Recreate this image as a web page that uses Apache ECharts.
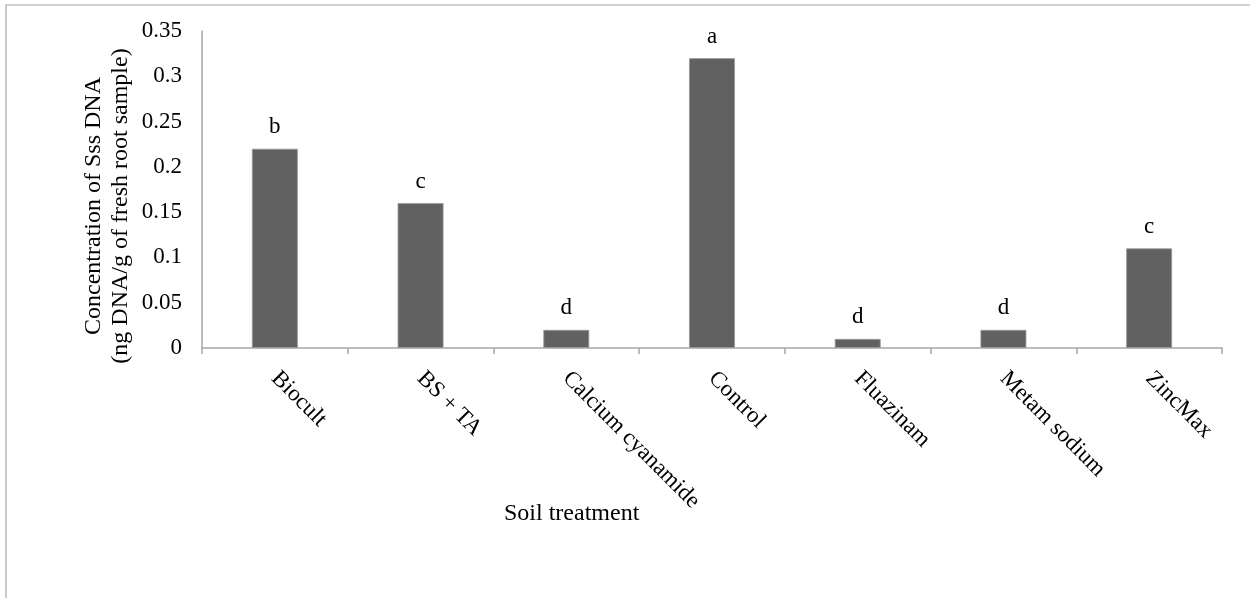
<!DOCTYPE html>
<html>
<head>
<meta charset="utf-8">
<script src="https://cdn.jsdelivr.net/npm/echarts@6/dist/echarts.min.js"></script>
<style>
  html, body { margin: 0; padding: 0; background: #fff; }
  #chart { width: 1250px; height: 598px; }
</style>
</head>
<body>
<div id="chart"></div>
<script>
// Sss DNA concentration in roots by soil treatment
const treatments = ['Biocult', 'BS + TA', 'Calcium cyanamide', 'Control', 'Fluazinam', 'Metam sodium', 'ZincMax'];
const concentration = [0.22, 0.16, 0.02, 0.32, 0.01, 0.02, 0.11];
const significance = ['b', 'c', 'd', 'a', 'd', 'd', 'c'];
const yTicks = [0, 0.05, 0.1, 0.15, 0.2, 0.25, 0.3, 0.35];

const serif = '"Liberation Serif", "Times New Roman", serif';
const axisGray = '#a6a6a6';

const chart = echarts.init(document.getElementById('chart'), null, { renderer: 'canvas' });

chart.setOption({
  animation: false,
  backgroundColor: '#fff',
  grid: { left: 202, right: 28, top: 31, bottom: 250, containLabel: false },
  graphic: [{
    type: 'rect',
    shape: { x: 6, y: 5, width: 1270, height: 620 },
    style: { fill: 'none', stroke: axisGray, lineWidth: 1.2 },
    silent: true,
    z: -1
  }, {
    // vertical axis title, two lines
    type: 'text',
    x: 107,
    y: 206,
    rotation: Math.PI / 2,
    style: {
      text: 'Concentration of Sss DNA\n(ng DNA/g of fresh root sample)',
      fontFamily: serif,
      fontSize: 24,
      lineHeight: 27,
      fill: '#000',
      align: 'center',
      verticalAlign: 'middle'
    },
    silent: true
  }],
  title: {
    text: 'Soil treatment',
    left: 504,
    top: 502,
    padding: 0,
    textStyle: { fontFamily: serif, fontSize: 24, fontWeight: 'normal', color: '#000' }
  },
  xAxis: {
    type: 'category',
    data: treatments,
    boundaryGap: true,
    axisLine: { lineStyle: { color: axisGray, width: 1.5 } },
    axisTick: { show: true, length: 6, lineStyle: { color: axisGray, width: 1.5 } },
    axisLabel: {
      rotate: -45,
      margin: 27,
      interval: 0,
      fontFamily: serif,
      fontSize: 23,
      color: '#000'
    }
  },
  yAxis: {
    type: 'value',
    min: 0,
    max: yTicks[yTicks.length - 1],
    interval: 0.05,
    axisLine: { show: true, lineStyle: { color: axisGray, width: 1.5 } },
    axisTick: { show: false },
    splitLine: { show: false },
    axisLabel: {
      margin: 20,
      fontFamily: serif,
      fontSize: 23,
      color: '#000',
      formatter: v => String(+v.toFixed(2))
    }
  },
  series: [{
    type: 'bar',
    data: concentration,
    barWidth: '31.5%',
    itemStyle: { color: '#616161', borderColor: '#9a9a9a', borderWidth: 0.8 },
    label: {
      show: true,
      position: 'top',
      distance: 10,
      fontFamily: serif,
      fontSize: 23,
      color: '#000',
      formatter: p => significance[p.dataIndex]
    }
  }]
});
</script>
</body>
</html>
